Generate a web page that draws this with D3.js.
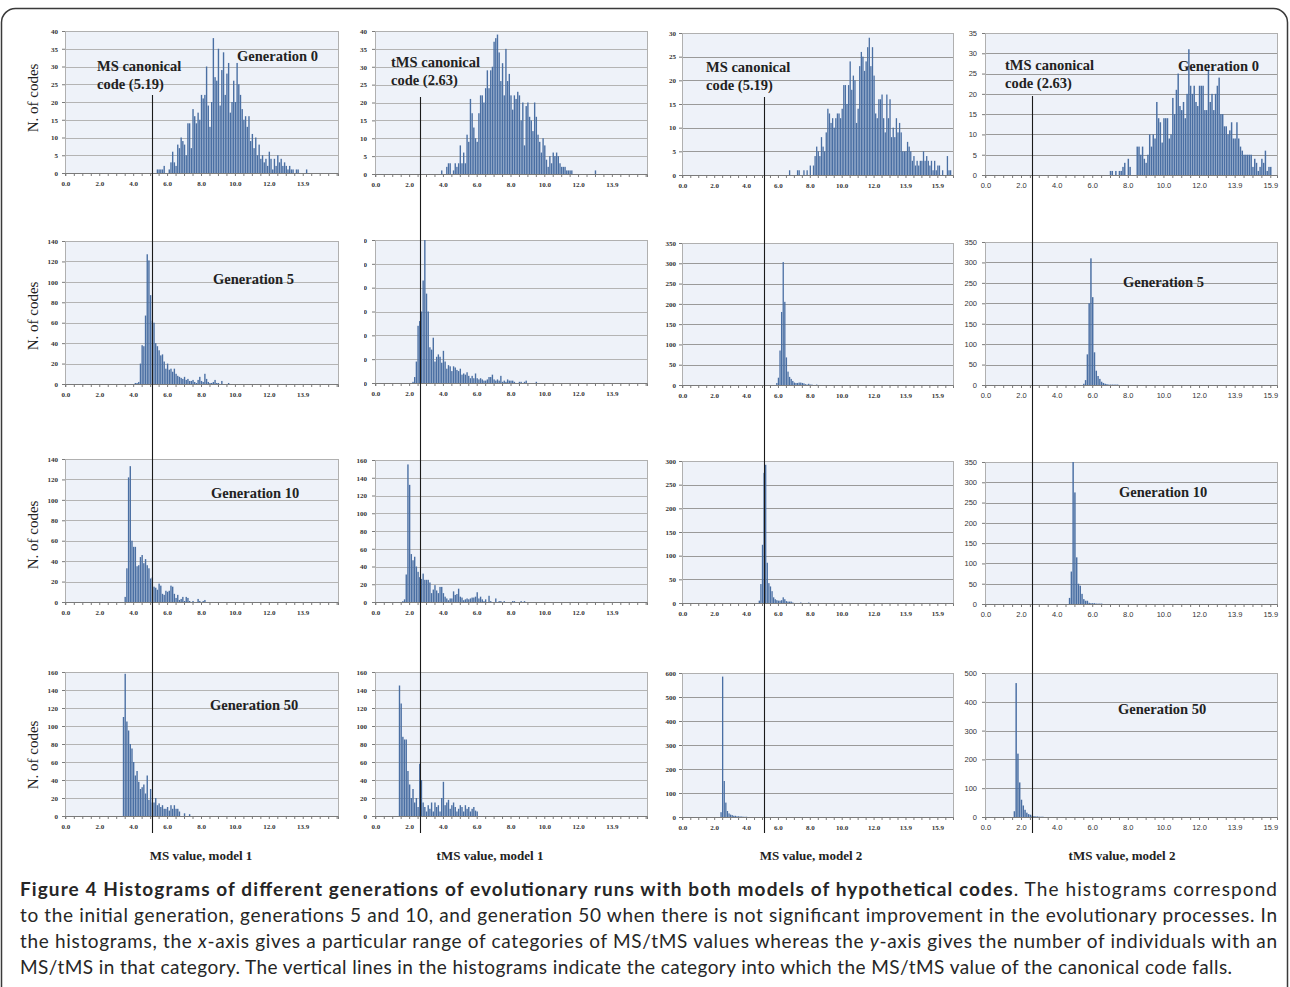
<!DOCTYPE html>
<html>
<head>
<meta charset="utf-8">
<script src="https://cdn.jsdelivr.net/npm/d3@7"></script>
<style>
  body { margin: 0; background: #fff; }
  svg { display: block; }
</style>
</head>
<body>
<svg id="fig" width="1290" height="987"></svg>
<script>
// counts per category (bin width ~0.1), first value sits in category startBin
var ms1Gen0 = [1,1,1,1,2,0,0,1,3,6,3,2,8,7,10,9,8,5,14,14,7,18,16,14,17,15,22,21,22,30,19,13,20,38,27,26,35,19,29,34,22,28,31,17,20,26,20,31,25,22,18,15,16,13,16,9,11,7,10,5,8,4,5,3,4,2,6,4,1,4,2,5,3,4,2,3,2,1,2,1,1,0,1,1,0,0,0,0,1];
var tms1Gen0 = [1,0,0,2,3,3,0,1,3,2,3,8,3,6,3,11,9,21,17,13,10,9,17,22,22,20,24,29,24,29,30,37,38,39,34,26,31,22,35,26,28,22,18,22,21,23,22,15,20,8,19,20,16,15,12,20,16,11,9,6,10,8,4,2,5,3,6,5,6,5,3,2,2,2,1,1,1,1,0,0,0,0,0,0,0,0,0,0,0,0,0,1];
var ms2Gen0 = [1,0,0,0,0,1,1,0,0,1,0,1,0,2,0,2,4,6,5,4,8,6,5,9,14,13,11,12,10,12,13,13,12,14,19,19,15,19,24,18,21,20,11,14,23,26,25,22,24,27,29,23,27,21,13,12,16,16,17,12,9,17,12,16,8,10,8,12,9,11,9,5,5,5,7,6,5,3,4,2,3,2,3,3,5,3,4,3,2,3,1,3,1,2,2,0,1,0,0,4,1,1];
var tms2Gen0 = [1,1,0,1,0,1,1,2,3,0,4,2,0,0,0,7,7,5,7,4,3,5,10,7,10,9,18,14,13,8,14,14,14,9,10,19,15,21,25,17,16,18,14,20,31,22,20,22,18,17,22,22,22,16,16,26,18,20,16,20,22,24,15,15,12,12,10,11,13,9,9,13,9,7,6,5,5,5,5,5,2,4,3,1,2,4,3,6,1,2,2];

var ms1Gen5 = [1,1,2,20,38,37,67,127,121,87,62,60,40,37,33,28,29,22,15,20,14,15,12,15,10,8,7,6,5,7,4,5,3,3,4,2,1,4,7,3,2,10,5,2,1,1,2,4,1,1,0,3,0,0,0,1];
var tms1Gen5 = [1,5,18,48,52,60,86,120,75,60,30,28,38,18,22,24,22,17,27,18,12,15,14,10,14,13,11,10,12,7,8,7,9,6,4,6,4,8,4,3,4,3,2,2,3,5,5,7,3,2,3,2,6,1,2,1,3,2,2,2,1,0,0,1,1,0,1,2,0,0,0,0,0,1];
var ms2Gen5 = [5,18,85,180,303,205,68,33,20,15,10,6,5,5,6,6,5,4,2,1,3,1,1,0,0,1];
var tms2Gen5 = [3,12,75,200,310,215,80,35,22,15,8,5,3,2,1,1,1,1,1,1];

var ms1Gen10 = [5,33,122,133,60,54,54,35,36,44,46,38,42,36,33,23,24,15,14,12,18,16,8,7,11,10,11,16,15,8,4,7,2,3,5,1,5,4,1,0,1,0,0,3,1,0,1,2];
var tms1Gen10 = [1,3,31,155,132,54,47,51,40,34,28,26,32,25,25,25,22,10,14,19,13,10,17,17,10,6,4,2,4,4,12,8,9,15,6,5,2,3,4,3,4,5,5,6,11,4,6,3,1,3,0,7,1,0,0,4,0,1,1,0,1,0,0,0,0,1,1,0,0,0,1,0,1];
var ms2Gen10 = [5,40,123,275,292,85,42,35,25,12,8,6,5,5,6,12,8,4,3,3,3,1,0,0,0,0,1,0,0,0,0,1];
var tms2Gen10 = [15,80,350,275,115,50,45,25,12,8,8,3,2,2,2,1,1,1,1];

var ms1Gen50 = [110,158,105,95,80,75,60,45,50,38,30,32,35,25,45,18,30,15,15,20,12,14,10,12,8,8,10,6,12,8,12,8,8,5,0,0,3,0,0,2];
var tms1Gen50 = [145,125,88,85,85,50,35,20,30,15,20,10,58,40,15,10,5,12,8,15,5,15,10,12,5,20,38,12,15,18,8,12,15,10,5,8,12,10,5,12,8,10,5,8,10,6,5];
var ms2Gen50 = [20,585,150,60,25,15,10,8,5,5,3,3,2,2,1,1,1];
var tms2Gen50 = [20,465,220,120,60,40,25,15,10,8,5,3,2,2,1,1,1];

var startBin = [[54, 39, 67, 70], [41, 22, 59, 55], [35, 16, 48, 47], [34, 14, 24, 16]];

var yMax = [[40, 40, 30, 35], [140, 120, 350, 350], [140, 160, 300, 350], [160, 160, 600, 500]];
var yStep = [[5, 5, 5, 5], [20, 20, 50, 50], [20, 20, 50, 50], [20, 20, 100, 100]];

var xTickLabels = ["0.0", "2.0", "4.0", "6.0", "8.0", "10.0", "12.0", "13.9", "15.9"];
var canonical = [5.19, 2.63, 5.19, 2.63];
var canonicalText = [["MS canonical", "code (5.19)"], ["tMS canonical", "code (2.63)"], ["MS canonical", "code (5.19)"], ["tMS canonical", "code (2.63)"]];
var genLabels = ["Generation 0", "Generation 5", "Generation 10", "Generation 50"];
var axisTitles = ["MS value, model 1", "tMS value, model 1", "MS value, model 2", "tMS value, model 2"];

var panelData = [
    [ms1Gen0, tms1Gen0, ms2Gen0, tms2Gen0],
    [ms1Gen5, tms1Gen5, ms2Gen5, tms2Gen5],
    [ms1Gen10, tms1Gen10, ms2Gen10, tms2Gen10],
    [ms1Gen50, tms1Gen50, ms2Gen50, tms2Gen50]
];

// layout
var colLeft = [65, 375, 682, 985];
var colRight = [338, 647, 953, 1277];
var nCats = [161, 161, 170, 164];
var labelGap = [7, 8, 6, 8];
var plotTop = [[31, 31, 33, 33], [241, 240, 243, 242], [459, 460, 461, 462], [672, 672, 673, 673]];
var plotBottom = [[173, 174, 175, 175], [384, 383, 385, 385], [602, 602, 603, 604], [816, 816, 817, 817]];
var binWidth = 0.1;

var svg = d3.select("#fig");

// outer frame
svg.append("rect")
    .attr("x", 1.5).attr("y", 8.5)
    .attr("width", 1286).attr("height", 1000)
    .attr("rx", 14)
    .attr("fill", "none")
    .attr("stroke", "#3a3a3a")
    .attr("stroke-width", 1.5);

var serif = "'Liberation Serif', 'Times New Roman', serif";
var sans = "'Liberation Sans', Arial, sans-serif";

var xScales = [];

for (var r = 0; r < 4; r++) {
    for (var c = 0; c < 4; c++) {
        var py0 = plotTop[r][c], py1 = plotBottom[r][c];
        var x = d3.scaleBand()
            .domain(d3.range(nCats[c]))
            .range([colLeft[c], colRight[c]])
            .paddingInner(0.18)
            .paddingOuter(0.09);
        if (r === 0) xScales.push(x);
        var y = d3.scaleLinear().domain([0, yMax[r][c]]).range([py1, py0]);
        var g = svg.append("g");

        g.append("rect")
            .attr("x", colLeft[c]).attr("y", py0)
            .attr("width", colRight[c] - colLeft[c])
            .attr("height", py1 - py0)
            .attr("fill", "#eef2f9");

        var yTicks = d3.range(0, yMax[r][c] + 1, yStep[r][c]);
        g.selectAll(".grid")
            .data(yTicks.slice(1))
            .enter().append("line")
            .attr("x1", colLeft[c]).attr("x2", colRight[c])
            .attr("y1", d => Math.round(y(d)) + 0.5).attr("y2", d => Math.round(y(d)) + 0.5)
            .attr("stroke", c < 2 ? "#b4b4b4" : "#9a9a9a")
            .attr("stroke-width", 1);

        g.append("rect")
            .attr("x", colLeft[c] + 0.5).attr("y", py0 + 0.5)
            .attr("width", colRight[c] - colLeft[c])
            .attr("height", py1 - py0)
            .attr("fill", "none")
            .attr("stroke", "#b0b0b0");

        var counts = panelData[r][c];
        var start = startBin[r][c];
        var bars = counts.map((v, k) => ({ i: start + k, v: v })).filter(d => d.v > 0);
        g.selectAll(".bar")
            .data(bars)
            .enter().append("rect")
            .attr("x", d => x(d.i))
            .attr("width", x.bandwidth())
            .attr("y", d => y(d.v))
            .attr("height", d => py1 - y(d.v))
            .attr("fill", "#4a6fa3");

        // x axis
        var tickIdx = d3.range(0, nCats[c], 5);
        var xAxis = d3.axisBottom(x)
            .tickValues(tickIdx)
            .tickSize(3)
            .tickPadding(5)
            .tickFormat(i => {
                if (i % 20 !== 0) return "";
                if (c < 2 && i > 140) return "";
                return xTickLabels[i / 20] || "";
            });
        var xa = g.append("g").attr("transform", "translate(0," + py1 + ")").call(xAxis);
        xa.select(".domain").attr("stroke", "#7a7a7a");
        xa.selectAll(".tick line").attr("stroke", "#7a7a7a");
        xa.selectAll("text")
            .attr("font-family", c < 3 ? serif : sans)
            .attr("font-weight", c < 3 ? "bold" : "normal")
            .attr("font-size", c < 3 ? 7 : 7.5)
            .attr("fill", "#333");

        // y axis
        var yAxis = d3.axisLeft(y).tickValues(yTicks).tickSize(3).tickPadding(labelGap[c] - 3);
        var ya = g.append("g").attr("transform", "translate(" + colLeft[c] + ",0)").call(yAxis);
        ya.select(".domain").remove();
        ya.selectAll(".tick line").attr("stroke", "#7a7a7a");
        ya.selectAll("text")
            .attr("font-family", c < 3 ? serif : sans)
            .attr("font-weight", c < 3 ? "bold" : "normal")
            .attr("font-size", c < 3 ? 7 : 7.5)
            .attr("fill", "#333");
        if (r === 1 && c === 1) {
            // labels of this panel are cut off in the source figure
            svg.append("clipPath").attr("id", "clipY").append("rect")
                .attr("x", -11).attr("y", py0 - 10)
                .attr("width", 12).attr("height", py1 - py0 + 20);
            ya.attr("clip-path", "url(#clipY)");
        }
    }
}

// y axis titles
var yTitleCenter = [98, 316, 535, 755];
yTitleCenter.forEach(cy => {
    svg.append("text")
        .attr("transform", "translate(38," + cy + ") rotate(-90)")
        .attr("text-anchor", "middle")
        .attr("font-family", serif)
        .attr("font-size", 15)
        .attr("fill", "#222")
        .text("N. of codes");
});

// annotations
function boldLabel(txt, px, py) {
    svg.append("text")
        .attr("x", px).attr("y", py)
        .attr("font-family", serif)
        .attr("font-weight", "bold")
        .attr("font-size", 14.5)
        .attr("fill", "#222")
        .text(txt);
}
var canonPos = [[97, 71], [391, 67], [706, 72], [1005, 70]];
canonicalText.forEach((t, c) => {
    boldLabel(t[0], canonPos[c][0], canonPos[c][1]);
    boldLabel(t[1], canonPos[c][0], canonPos[c][1] + 18);
});
var genPos = [[[237, 61], [1178, 71]], [[213, 284], [1123, 287]], [[211, 498], [1119, 497]], [[210, 710], [1118, 714]]];
genLabels.forEach((t, r) => {
    genPos[r].forEach(p => boldLabel(t, p[0], p[1]));
});

// axis titles under the columns
var titleCenter = [201, 490, 811, 1122];
axisTitles.forEach((t, c) => {
    svg.append("text")
        .attr("x", titleCenter[c]).attr("y", 860)
        .attr("text-anchor", "middle")
        .attr("font-family", serif)
        .attr("font-weight", "bold")
        .attr("font-size", 13)
        .attr("fill", "#222")
        .text(t);
});

// canonical code lines across all rows, in the category holding the value
var lineTop = [95, 97, 97, 96];
canonical.forEach((v, c) => {
    var x = xScales[c];
    var bin = Math.floor(v / binWidth);
    var lx = Math.round(x(bin) + x.bandwidth() / 2) + 0.5;
    svg.append("line")
        .attr("x1", lx).attr("x2", lx)
        .attr("y1", lineTop[c]).attr("y2", 833)
        .attr("stroke", "#1a1a1a")
        .attr("stroke-width", 1.1);
});

// caption
var captionLines = [
    { y: 896, width: 1257, parts: [["Figure 4 Histograms of different generations of evolutionary runs with both models of hypothetical codes", "bold", "normal"], [". The histograms correspond", "normal", "normal"]] },
    { y: 922, width: 1257, parts: [["to the initial generation, generations 5 and 10, and generation 50 when there is not significant improvement in the evolutionary processes. In", "normal", "normal"]] },
    { y: 948, width: 1257, parts: [["the histograms, the ", "normal", "normal"], ["x", "normal", "italic"], ["-axis gives a particular range of categories of MS/tMS values whereas the ", "normal", "normal"], ["y", "normal", "italic"], ["-axis gives the number of individuals with an", "normal", "normal"]] },
    { y: 974, width: 1212, parts: [["MS/tMS in that category. The vertical lines in the histograms indicate the category into which the MS/tMS value of the canonical code falls.", "normal", "normal"]] }
];
captionLines.forEach(line => {
    var t = svg.append("text")
        .attr("x", 20).attr("y", line.y)
        .attr("font-family", "Lato, 'Open Sans', sans-serif")
        .attr("font-size", 19)
        .attr("fill", "#262626")
        .attr("textLength", line.width)
        .attr("lengthAdjust", "spacing");
    line.parts.forEach(p => {
        t.append("tspan")
            .attr("font-weight", p[1])
            .attr("font-style", p[2])
            .text(p[0]);
    });
});
</script>
</body>
</html>
